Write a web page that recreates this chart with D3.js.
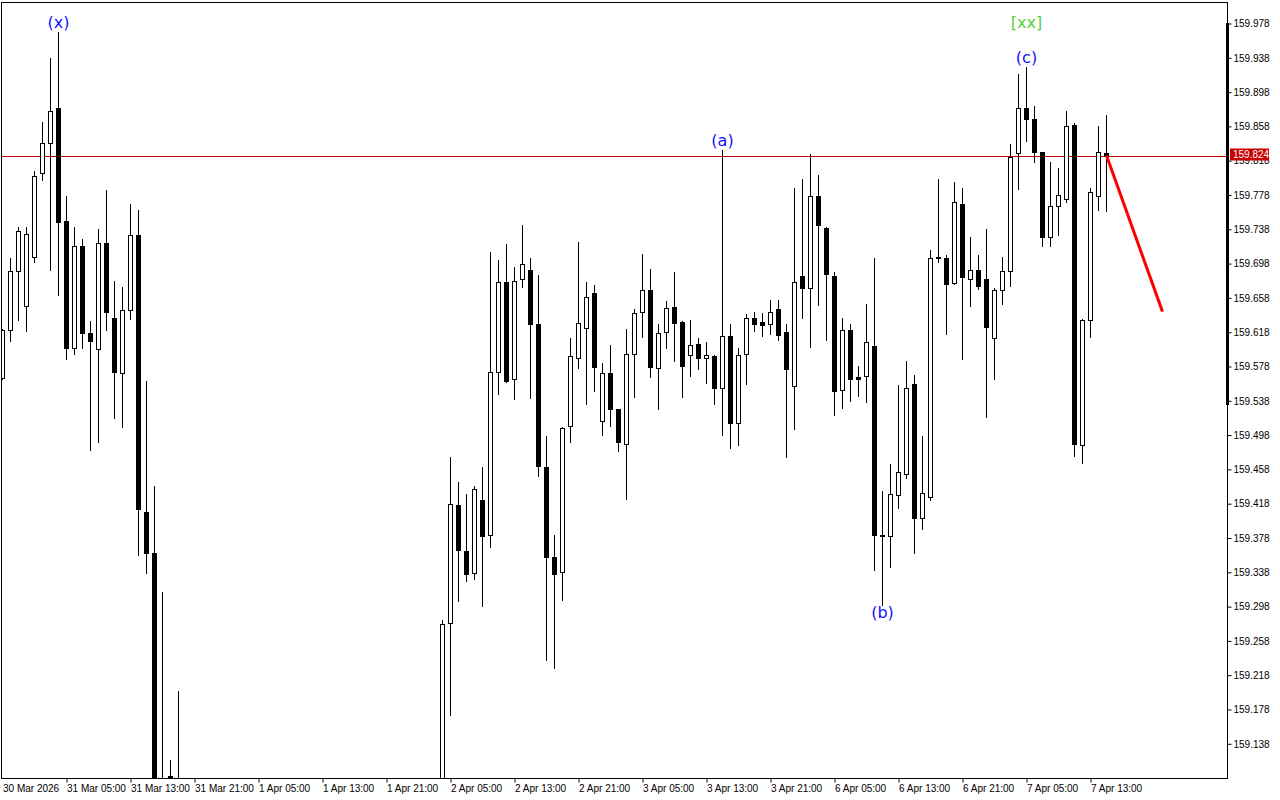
<!DOCTYPE html>
<html>
<head>
<meta charset="utf-8">
<script src="https://cdn.jsdelivr.net/npm/d3@7"></script>
<style>
  html, body { margin: 0; padding: 0; background: #fff; }
  svg { display: block; }
  .axis text { font-family: "Liberation Sans", Arial, sans-serif; font-size: 10px; fill: #000; }
  .wave { font-family: "DejaVu Sans", sans-serif; font-size: 16px; }
</style>
</head>
<body>
<svg id="chart" width="1280" height="800"></svg>
<script>
// H1 bars, index 0 = 30 Mar 21:00. null = bar entirely below the visible price range
var opens = [159.565,159.621,159.689,159.649,159.706,159.804,159.839,159.879,159.748,159.599,
  159.719,159.617,159.598,159.722,159.634,159.571,159.644,159.731,159.408,159.361,
  159.020,159.101,159.080,null,null,null,null,null,null,null,
  null,null,null,null,null,null,null,null,null,null,
  null,null,null,null,null,null,null,null,null,null,
  null,null,null,null,null,159.040,159.279,159.416,159.363,159.337,
  159.422,159.382,159.572,159.676,159.563,159.680,159.691,159.627,159.461,159.356,
  159.338,159.509,159.588,159.623,159.664,159.514,159.570,159.528,159.488,159.592,
  159.641,159.667,159.576,159.618,159.647,159.630,159.591,159.604,159.588,159.590,
  159.553,159.613,159.512,159.592,159.634,159.630,159.627,159.645,159.618,159.555,
  159.684,159.669,159.777,159.740,159.684,159.551,159.621,159.566,159.567,159.602,
  159.381,159.380,159.428,159.453,159.558,159.401,159.426,159.706,159.705,159.675,
  159.768,159.680,159.690,159.680,159.611,159.667,159.689,159.827,159.879,159.867,
  159.828,159.729,159.765,159.773,159.860,159.486,159.632,159.777,159.827];
var highs = [159.622,159.705,159.741,159.741,159.806,159.863,159.938,159.968,159.777,159.741,
  159.727,159.631,159.738,159.784,159.678,159.671,159.768,159.761,159.561,159.439,
  159.315,159.119,159.200,null,null,null,null,null,null,null,
  null,null,null,null,null,null,null,null,null,null,
  null,null,null,null,null,null,null,null,null,null,
  null,null,null,null,null,159.282,159.473,159.443,159.429,159.439,
  159.461,159.711,159.702,159.721,159.694,159.743,159.704,159.685,159.497,159.381,
  159.508,159.611,159.723,159.676,159.673,159.582,159.603,159.529,159.622,159.645,
  159.709,159.692,159.628,159.654,159.688,159.631,159.632,159.611,159.606,159.591,
  159.831,159.628,159.600,159.639,159.642,159.640,159.656,159.656,159.628,159.786,
  159.797,159.826,159.801,159.741,159.688,159.634,159.628,159.579,159.651,159.704,
  159.433,159.464,159.556,159.584,159.568,159.497,159.714,159.797,159.708,159.793,
  159.786,159.729,159.708,159.738,159.669,159.706,159.837,159.919,159.927,159.882,
  159.828,159.816,159.810,159.876,159.862,159.633,159.786,159.859,159.871];
var lows = [159.563,159.608,159.632,159.619,159.700,159.795,159.691,159.661,159.587,159.593,
  159.599,159.481,159.490,159.620,159.518,159.507,159.633,159.358,159.337,159.005,
  158.970,159.060,159.030,null,null,null,null,null,null,null,
  null,null,null,null,null,null,null,null,null,null,
  null,null,null,null,null,null,null,null,null,null,
  null,null,null,null,null,159.020,159.172,159.304,159.328,159.330,
  159.299,159.367,159.546,159.560,159.540,159.671,159.541,159.450,159.236,159.226,
  159.306,159.490,159.576,159.534,159.550,159.498,159.509,159.480,159.424,159.543,
  159.612,159.566,159.528,159.599,159.584,159.542,159.567,159.575,159.559,159.534,
  159.498,159.483,159.486,159.558,159.619,159.613,159.616,159.609,159.472,159.505,
  159.635,159.601,159.650,159.609,159.521,159.530,159.538,159.544,159.537,159.341,
  159.300,159.344,159.413,159.448,159.360,159.388,159.422,159.700,159.616,159.674,
  159.587,159.648,159.668,159.519,159.563,159.651,159.672,159.785,159.841,159.817,
  159.719,159.719,159.731,159.770,159.474,159.465,159.612,159.761,159.759];
var closes = [159.621,159.689,159.736,159.732,159.800,159.839,159.876,159.746,159.600,159.719,
  159.617,159.608,159.722,159.642,159.572,159.644,159.731,159.412,159.361,159.020,
  158.990,159.100,159.050,null,null,null,null,null,null,null,
  null,null,null,null,null,null,null,null,null,null,
  null,null,null,null,null,null,null,null,null,null,
  null,null,null,null,null,159.278,159.418,159.364,159.336,159.435,
  159.380,159.572,159.677,159.561,159.678,159.698,159.627,159.462,159.356,159.336,
  159.506,159.590,159.629,159.659,159.578,159.570,159.528,159.490,159.592,159.640,
  159.667,159.577,159.617,159.646,159.629,159.579,159.603,159.588,159.591,159.553,
  159.613,159.512,159.591,159.635,159.628,159.626,159.642,159.615,159.575,159.677,
  159.670,159.777,159.743,159.686,159.550,159.621,159.564,159.564,159.606,159.381,
  159.380,159.429,159.455,159.553,159.401,159.430,159.704,159.704,159.674,159.770,
  159.682,159.690,159.672,159.624,159.667,159.689,159.822,159.880,159.867,159.828,
  159.729,159.765,159.778,159.859,159.488,159.632,159.781,159.828,159.824];

var priceTicks = [159.978,159.938,159.898,159.858,159.818,159.778,159.738,159.698,159.658,159.618,159.578,
  159.538,159.498,159.458,159.418,159.378,159.338,159.298,159.258,159.218,159.178,159.138];
var timeTicks = [0,8,16,24,32,40,48,56,64,72,80,88,96,104,112,120,128,136];
var timeLabels = ["30 Mar 2026","31 Mar 05:00","31 Mar 13:00","31 Mar 21:00","1 Apr 05:00","1 Apr 13:00",
  "1 Apr 21:00","2 Apr 05:00","2 Apr 13:00","2 Apr 21:00","3 Apr 05:00","3 Apr 13:00","3 Apr 21:00",
  "6 Apr 05:00","6 Apr 13:00","6 Apr 21:00","7 Apr 05:00","7 Apr 13:00"];

var lastPrice = 159.824;
var waveText = ["(x)", "(a)", "(b)", "(c)", "[xx]"];
var waveBar = [7, 90, 110, 128, 128];
var wavePrice = [159.979, 159.842, 159.291, 159.938, 159.979];
var waveColor = ["#1010ff", "#1010ff", "#1010ff", "#1010ff", "#55d040"];
var arrowBar = [138, 145];
var arrowPrice = [159.824, 159.642];

var svg = d3.select("#chart");
var pLeft = 1.5, pTop = 2.5, pRight = 1227.5, pBottom = 778.5;

var x = d3.scaleLinear().domain([0, 1]).range([2.5, 10.5]);
var y = d3.scaleLinear().domain([159.138, 159.978]).range([743.8, 23.5]);

svg.append("defs").append("clipPath").attr("id", "plot")
  .append("rect").attr("x", pLeft + 0.5).attr("y", pTop + 0.5)
  .attr("width", pRight - pLeft - 1).attr("height", pBottom - pTop - 1);

var plot = svg.append("g").attr("clip-path", "url(#plot)");

// current price line
var py = Math.round(y(lastPrice)) + 0.5;
plot.append("line").attr("x1", pLeft).attr("x2", pRight).attr("y1", py).attr("y2", py)
  .attr("stroke", "#c00000").attr("stroke-width", 1);

var bars = d3.range(opens.length).filter(i => opens[i] != null).map(i => ({
  i: i, o: opens[i], h: highs[i], l: lows[i], c: closes[i]
}));

var candles = plot.selectAll(".candle").data(bars).enter().append("g").attr("class", "candle");

candles.append("line")
  .attr("x1", d => x(d.i)).attr("x2", d => x(d.i))
  .attr("y1", d => Math.round(y(d.h))).attr("y2", d => Math.round(y(d.l)) + 1)
  .attr("stroke", "#000").attr("stroke-width", 1);

candles.append("rect")
  .attr("x", d => x(d.i) - 2)
  .attr("y", d => Math.round(y(Math.max(d.o, d.c))) + 0.5)
  .attr("width", 4)
  .attr("height", d => Math.max(1, Math.round(y(Math.min(d.o, d.c))) - Math.round(y(Math.max(d.o, d.c)))))
  .attr("fill", d => d.c >= d.o ? "#fff" : "#000")
  .attr("stroke", "#000").attr("stroke-width", 1);

// forecast arrow
plot.append("line")
  .attr("x1", x(arrowBar[0])).attr("y1", y(arrowPrice[0]))
  .attr("x2", x(arrowBar[1])).attr("y2", y(arrowPrice[1]))
  .attr("stroke", "#ff0000").attr("stroke-width", 3);

// wave labels
waveText.forEach(function(t, k) {
  plot.append("text").attr("class", "wave")
    .attr("x", x(waveBar[k])).attr("y", y(wavePrice[k]))
    .attr("text-anchor", "middle").attr("dominant-baseline", "central")
    .attr("fill", waveColor[k]).text(t);
});

// frame
svg.append("rect").attr("x", pLeft).attr("y", pTop)
  .attr("width", pRight - pLeft).attr("height", pBottom - pTop)
  .attr("fill", "none").attr("stroke", "#000").attr("stroke-width", 1);

svg.append("line").attr("x1", pRight).attr("x2", pRight).attr("y1", 23).attr("y2", 405)
  .attr("stroke", "#000").attr("stroke-width", 3);

// price axis
var yAxis = svg.append("g").attr("class", "axis").attr("transform", "translate(" + pRight + ",0)")
  .call(d3.axisRight(y).tickValues(priceTicks).tickSize(4).tickPadding(2).tickFormat(d3.format(".3f")));
yAxis.select(".domain").remove();

// last price tag
var tag = svg.append("g").attr("transform", "translate(" + (pRight + 2.5) + "," + (py - 8) + ")");
tag.append("rect").attr("width", 39).attr("height", 12).attr("fill", "#c80000");
tag.append("text").attr("x", 3).attr("y", 9.5)
  .style("font-family", '"Liberation Sans", Arial, sans-serif').style("font-size", "10px")
  .attr("fill", "#fff").text(d3.format(".3f")(lastPrice));

// time axis
var xAxis = svg.append("g").attr("class", "axis").attr("transform", "translate(0," + pBottom + ")")
  .call(d3.axisBottom(x).tickValues(timeTicks).tickSize(4).tickFormat((d, k) => timeLabels[k]));
xAxis.select(".domain").remove();
xAxis.selectAll(".tick text").attr("text-anchor", "start").attr("x", 0).attr("y", 6);
xAxis.selectAll(".tick").filter(d => d === 0).select("line").remove();
</script>
</body>
</html>
